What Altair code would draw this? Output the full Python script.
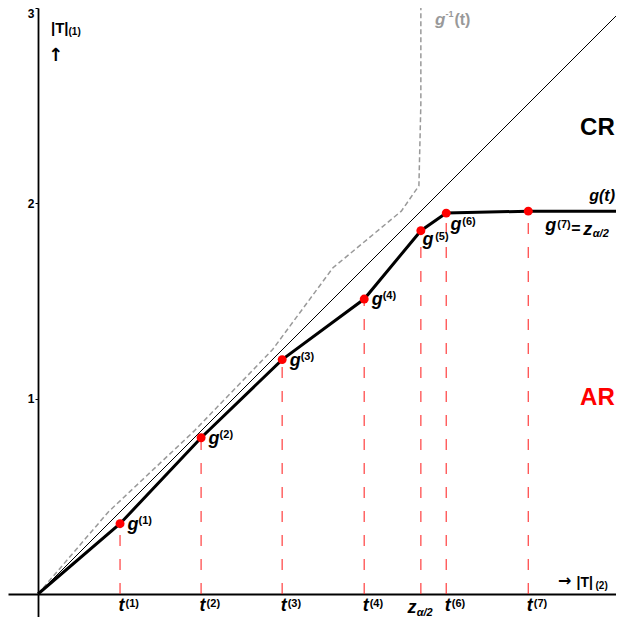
import altair as alt
import pandas as pd

# ---- values (data units) ----
t_vals = [0.0, 0.42, 0.835, 1.25, 1.67, 1.96, 2.09, 2.51, 3.0]   # knots on |T|(2)
g_vals = [0.0, 0.36, 0.80, 1.20, 1.51, 1.86, 1.95, 1.96, 1.96]   # g(t) at the knots
diag_vals = [0.0, 3.0]
y_ticks = [1, 2, 3]
g_names = ["(1)", "(2)", "(3)", "(4)", "(5)", "(6)", "(7)"]
t_base = ["t", "t", "t", "t", "z", "t", "t"]
t_sups = ["(1)", "(2)", "(3)", "(4)", "", "(6)", "(7)"]

FONT = "Liberation Sans"
K = 586 / 3.0                      # pixels per unit
XDOM = [-30 / K, 578 / K]
YDOM = [-23 / K, 3.0]

X = alt.X("x:Q", scale=alt.Scale(domain=XDOM, nice=False, zero=False),
          axis=alt.Axis(offset=-23, labels=False, ticks=False, grid=False, title=None,
                        domainColor="black", domainWidth=1.8))
Y = alt.Y("y:Q", scale=alt.Scale(domain=YDOM, nice=False, zero=False),
          axis=alt.Axis(offset=-30, values=y_ticks, format="d", grid=False, title=None,
                        domainColor="black", domainWidth=1.8, tickColor="black",
                        tickSize=3, labelPadding=1, labelFont=FONT, labelFontSize=12,
                        labelFontWeight="bold", labelColor="black", labelFlush=True))

curve = pd.DataFrame({"x": t_vals, "y": g_vals, "o": list(range(len(t_vals)))})
inverse = pd.DataFrame({"x": g_vals, "y": t_vals, "o": list(range(len(t_vals)))})
diag = pd.DataFrame({"x": diag_vals, "y": diag_vals})
knots = pd.DataFrame({"x": t_vals[1:8], "y": [0.0] * 7, "y2": g_vals[1:8], "g": g_vals[1:8]})

layers = []
layers.append(alt.Chart(diag).mark_line(color="black", strokeWidth=1, clip=True)
              .encode(x=X, y=Y))
layers.append(alt.Chart(inverse).mark_line(color="#999999", strokeWidth=1.5, strokeDash=[5, 3], clip=True)
              .encode(x=X, y=Y, order="o:Q"))
layers.append(alt.Chart(knots).mark_rule(color="#ff2020", strokeWidth=1.3, opacity=0.8, strokeDash=[11, 13])
              .encode(x=X, y=Y, y2="y2:Q"))
layers.append(alt.Chart(curve).mark_line(color="black", strokeWidth=3, clip=True)
              .encode(x=X, y=Y, order="o:Q"))
layers.append(alt.Chart(knots).mark_circle(color="red", size=80, opacity=1)
              .encode(x=X, y=alt.Y("g:Q", scale=alt.Scale(domain=YDOM, nice=False, zero=False))))


def label(xv, yv, s, size, dx=0, dy=0, color="black", italic=False, align="left",
          baseline="alphabetic", font=FONT):
    df = pd.DataFrame({"x": [xv], "y": [yv], "s": [s]})
    return alt.Chart(df).mark_text(font=font, fontSize=size, fontWeight="bold",
                                   fontStyle="italic" if italic else "normal",
                                   color=color, align=align, baseline=baseline,
                                   dx=dx, dy=dy).encode(x=X, y=Y, text="s:N")


# point labels g^(i)
g_off = {0: (7.5, 6, 18.5, 0), 1: (7.5, 6, 18.5, 0), 2: (7.5, 6, 18.5, 0), 3: (7.5, 6, 18.5, 0),
         4: (1.6, 14.7, 14.3, 9), 5: (4.3, 16.5, 16, 12), 6: (17, 20.3, 29, 17.3)}
for i in range(7):
    xv, yv = t_vals[i + 1], g_vals[i + 1]
    gdx, gdy, sdx, sdy = g_off[i]
    layers.append(label(xv, yv, "g", 18, gdx, gdy, italic=True))
    layers.append(label(xv, yv, g_names[i], 11, sdx, sdy))
# "= z_{α/2}" after g^(7)
layers.append(label(t_vals[7], g_vals[7], "=", 16, 43, 23))
layers.append(label(t_vals[7], g_vals[7], "z", 18, 55, 24.3, italic=True))
layers.append(label(t_vals[7], g_vals[7], "α/2", 11, 64.5, 26, italic=True))

# tick labels under the horizontal axis
for i in range(7):
    xv = t_vals[i + 1]
    if t_base[i] == "z":
        layers.append(label(xv, 0.0, "z", 18, -13.4, 19, italic=True))
        layers.append(label(xv, 0.0, "α/2", 11, -4.2, 22, italic=True))
    else:
        layers.append(label(xv, 0.0, "t", 18, -1.5, 17, italic=True))
        layers.append(label(xv, 0.0, t_sups[i], 11, 5.5, 12.5))

# axis names
layers.append(label(0.0666, 2.870, "|T|", 15))
layers.append(label(0.0666, 2.870, "(1)", 10, 17.5, 1.5))
layers.append(label(0.0896, 2.756, "↑", 18, align="center", baseline="middle", font="DejaVu Sans"))
layers.append(label(2.662, 0.0666, "→", 16, baseline="middle", font="DejaVu Sans"))
layers.append(label(2.757, 0.0343, "|T|", 14))
layers.append(label(2.757, 0.0343, "(2)", 10, 19, 1.5))

# curve names and regions
layers.append(label(2.032, 2.915, "g", 17, italic=True, color="#999999"))
layers.append(label(2.032, 2.915, "-1", 9, 10.5, -7.5, color="#999999"))
layers.append(label(2.032, 2.915, "(t)", 16, 19.5, color="#999999"))
layers.append(label(2.954, 2.012, "g(t)", 16, italic=True, align="right"))
layers.append(label(2.775, 2.386, "CR", 24, baseline="middle"))
layers.append(label(2.775, 1.003, "AR", 24, color="red", baseline="middle"))

chart = alt.layer(*layers).properties(
    width=608, height=609, padding=0,
    autosize=alt.AutoSizeParams(type="none"),
).configure_view(stroke=None)

chart.save("out.html", embed_options={"renderer": "svg", "actions": False})
